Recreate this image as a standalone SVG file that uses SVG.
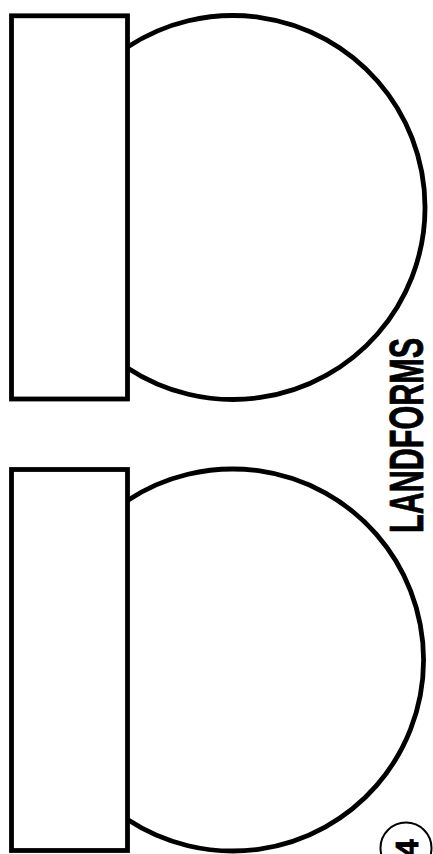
<svg xmlns="http://www.w3.org/2000/svg" width="433" height="854" viewBox="0 0 433 854">
<style>
.sh{fill:none;stroke:#000;stroke-width:4.8}
.lbl{font-family:"Liberation Sans Narrow","Liberation Sans",sans-serif;font-weight:bold;fill:#000;stroke:#000;stroke-width:0.8}
</style>
<rect width="433" height="854" fill="#fff"/>
<g id="top-shape">
<path class="sh" d="M127.5,47.1 A192,192 0 1 1 127.5,367.9"/>
<rect class="sh" x="11.5" y="15.8" width="116" height="383.2"/>
</g>
<g id="bottom-shape">
<path class="sh" d="M127.5,500.5 A191,191 0 1 1 127.5,819.5"/>
<rect class="sh" x="11.5" y="469.5" width="116" height="381"/>
</g>
<g id="title">
<text class="lbl" transform="translate(422.5,533) rotate(-90)" font-size="48" textLength="195" lengthAdjust="spacingAndGlyphs">LANDFORMS</text>
</g>
<g id="page-number">
<circle cx="406" cy="848" r="25.5" fill="none" stroke="#000" stroke-width="2"/>
<text class="lbl" transform="translate(418,848) rotate(-90)" font-size="32" text-anchor="middle">4</text>
</g>
</svg>
